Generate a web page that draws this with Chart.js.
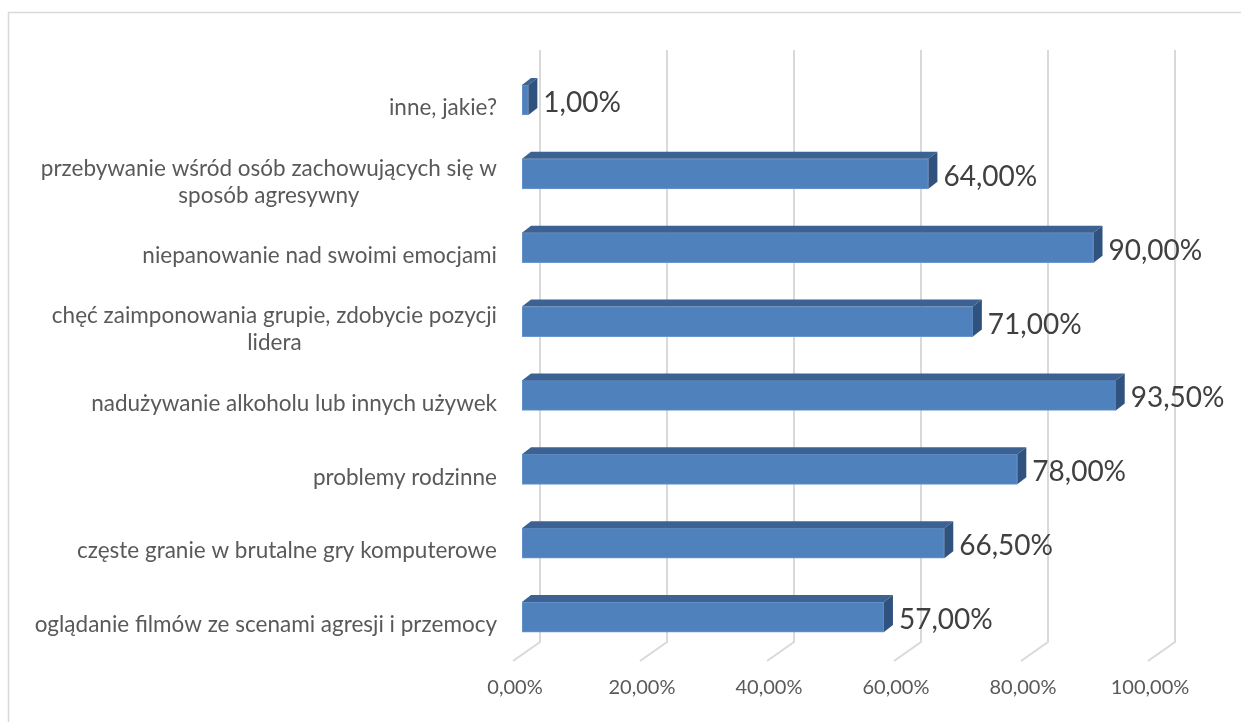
<!DOCTYPE html>
<html>
<head>
<meta charset="utf-8">
<script src="https://cdn.jsdelivr.net/npm/chart.js@4"></script>
<style>
  html, body { margin:0; padding:0; background:#fff; }
</style>
</head>
<body>
<canvas id="barChart" width="1241" height="722"></canvas>
<script>
// categories top to bottom, as shown
const categories = [
  'inne, jakie?',
  ['przebywanie wśród osób zachowujących się w', 'sposób agresywny'],
  'niepanowanie nad swoimi emocjami',
  ['chęć zaimponowania grupie, zdobycie pozycji', 'lidera'],
  'nadużywanie alkoholu lub innych używek',
  'problemy rodzinne',
  'częste granie w brutalne gry komputerowe',
  'oglądanie filmów ze scenami agresji i przemocy'
];
const percentValues = [1, 64, 90, 71, 93.5, 78, 66.5, 57];
const tickValues = [0, 20, 40, 60, 80, 100];

const fmtPct = v => v.toFixed(2).replace('.', ',') + '%';

// depth of the 3d look
const DX = 9, DY = 7;          // bar depth
const WALL = 18;               // back wall shift
const FLOOR_X = 27, FLOOR_Y = 19;

const fake3d = {
  id: 'fake3d',
  beforeDraw(chart) {
    const ctx = chart.ctx;
    ctx.save();
    ctx.strokeStyle = '#d9d9d9';
    ctx.lineWidth = 1.5;
    ctx.strokeRect(8.5, 12.5, chart.width + 20, chart.height + 20);
    ctx.restore();
  },
  beforeDatasetsDraw(chart) {
    const ctx = chart.ctx, xs = chart.scales.x, area = chart.chartArea;
    const top = area.top - 13, bottom = area.bottom - 12;
    ctx.save();
    ctx.strokeStyle = '#d9d9d9';
    ctx.lineWidth = 2;
    tickValues.forEach(v => {
      const px = xs.getPixelForValue(v) + WALL;
      ctx.beginPath();
      ctx.moveTo(px, top);
      ctx.lineTo(px, bottom);
      ctx.lineTo(px - FLOOR_X, bottom + FLOOR_Y);
      ctx.stroke();
    });
    ctx.restore();
  },
  afterDatasetsDraw(chart) {
    const ctx = chart.ctx;
    const meta = chart.getDatasetMeta(0);
    ctx.save();
    meta.data.forEach((bar, i) => {
      const t = bar.y - bar.height / 2, b = bar.y + bar.height / 2;
      const l = bar.base, r = bar.x;
      // top face
      ctx.fillStyle = '#3b6292';
      ctx.beginPath();
      ctx.moveTo(l, t); ctx.lineTo(l + DX, t - DY);
      ctx.lineTo(r + DX, t - DY); ctx.lineTo(r, t);
      ctx.closePath(); ctx.fill();
      // side face
      ctx.fillStyle = '#30527f';
      ctx.beginPath();
      ctx.moveTo(r, t); ctx.lineTo(r + DX, t - DY);
      ctx.lineTo(r + DX, b - DY); ctx.lineTo(r, b);
      ctx.closePath(); ctx.fill();
      // value label
      ctx.fillStyle = '#404040';
      ctx.font = '28px Lato';
      ctx.textAlign = 'left';
      ctx.textBaseline = 'middle';
      ctx.fillText(fmtPct(percentValues[i]), r + 15, bar.y + 3);
    });
    // category labels: block right aligned, lines centred
    const ys = chart.scales.y;
    ctx.fillStyle = '#595959';
    ctx.font = '22.5px Lato';
    ctx.textAlign = 'center';
    ctx.textBaseline = 'middle';
    const rightEdge = chart.chartArea.left - 25;
    const lineH = 27;
    categories.forEach((c, i) => {
      const lines = Array.isArray(c) ? c : [c];
      const w = Math.max(...lines.map(s => ctx.measureText(s).width));
      const cx = rightEdge - w / 2;
      const cy = ys.getPixelForValue(i) + 8;
      lines.forEach((s, k) => {
        ctx.fillText(s, cx, cy + (k - (lines.length - 1) / 2) * lineH);
      });
    });
    ctx.restore();
  }
};

new Chart(document.getElementById('barChart').getContext('2d'), {
  type: 'bar',
  data: {
    labels: categories,
    datasets: [{
      data: percentValues,
      backgroundColor: '#4f81bd',
      borderColor: '#6a97cf',
      borderWidth: 1,
      borderSkipped: false,
      barThickness: 30
    }]
  },
  options: {
    indexAxis: 'y',
    responsive: false,
    animation: false,
    layout: { padding: { left: 522, right: 84, top: 63, bottom: 0 } },
    plugins: { legend: { display: false }, tooltip: { enabled: false } },
    scales: {
      x: {
        min: 0, max: 100,
        grid: { display: false, drawTicks: false },
        border: { display: false },
        ticks: {
          stepSize: 20,
          padding: 22,
          labelOffset: -7,
          color: '#595959',
          font: { family: 'Lato', size: 20 },
          callback: v => fmtPct(v)
        }
      },
      y: {
        display: false,
        grid: { display: false }
      }
    }
  },
  plugins: [fake3d]
});
</script>
</body>
</html>
